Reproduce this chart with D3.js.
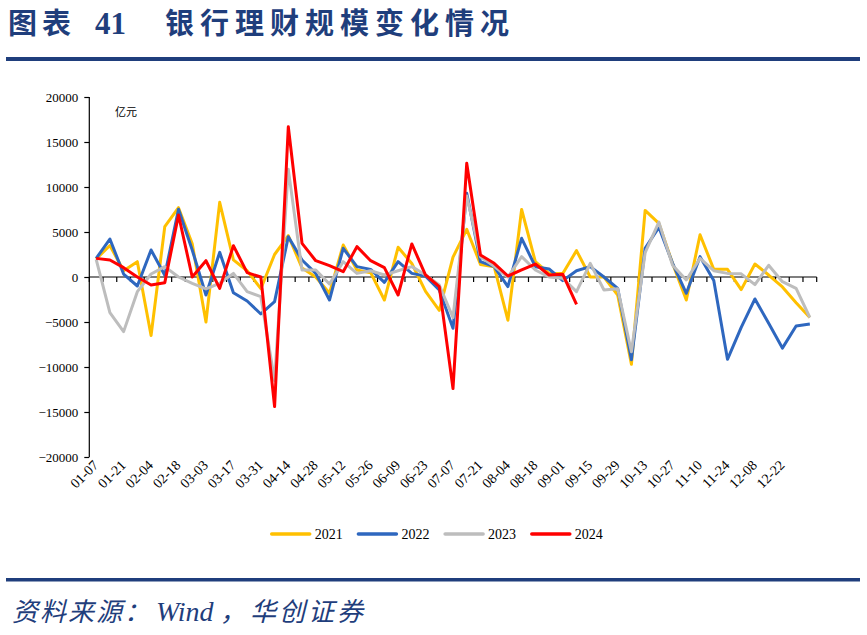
<!DOCTYPE html>
<html><head><meta charset="utf-8">
<script src="https://cdn.jsdelivr.net/npm/d3@7/dist/d3.min.js"></script>
<style>body{margin:0;background:#fff}svg{display:block}</style>
</head><body>
<script>
// ---- data ----
const categories = ["01-07","01-14","01-21","01-28","02-04","02-11","02-18","02-25","03-03","03-10","03-17","03-24","03-31","04-07","04-14","04-21","04-28","05-05","05-12","05-19","05-26","06-02","06-09","06-16","06-23","06-30","07-07","07-14","07-21","07-28","08-04","08-11","08-18","08-25","09-01","09-08","09-15","09-22","09-29","10-06","10-13","10-20","10-27","11-03","11-10","11-17","11-24","12-01","12-08","12-15","12-22","12-29","12-31"];
const tickLabels = ["01-07","01-21","02-04","02-18","03-03","03-17","03-31","04-14","04-28","05-12","05-26","06-09","06-23","07-07","07-21","08-04","08-18","09-01","09-15","09-29","10-13","10-27","11-10","11-24","12-08","12-22"];
const yTicks = [-20000,-15000,-10000,-5000,0,5000,10000,15000,20000];
const seriesNames = ["2021","2022","2023","2024"];
const v2021 = [2000,3500,700,1700,-6500,5600,7700,3700,-5000,8300,1900,700,-1300,2500,4600,1000,0,-1800,3550,780,480,-2560,3300,1500,-1600,-3700,2200,5300,1400,1150,-4800,7500,1700,400,400,2930,0,0,-2000,-9700,7400,5960,1500,-2560,4700,850,850,-1400,1440,220,-1100,-2850,-4500];
const v2022 = [2070,4220,330,-1000,3000,200,7520,3000,-2000,2740,-1740,-2670,-4110,-2740,4480,1890,400,-2560,3190,1150,850,-590,1700,400,100,-1440,-5700,9300,1700,1150,-1070,4300,1150,890,-400,700,1150,0,-1260,-9200,3190,5520,1520,-1810,2260,-400,-9150,-5600,-2440,-5150,-7900,-5440,-5220];
const v2023 = [1960,-3960,-6070,-1630,330,1150,0,-700,-1330,-700,400,-1630,-2190,-11500,11960,780,780,-780,1700,400,700,220,700,1150,220,-890,-4500,9000,2260,1200,0,2260,780,0,-150,-1630,1520,-1440,-1300,-8300,2700,6100,1300,-330,2070,700,400,350,-850,1300,-520,-1260,-4500];
const v2024 = [2070,1890,1040,0,-890,-630,6890,0,1810,-1260,3480,480,0,-14400,16700,3740,1810,1260,590,3370,1810,1040,-2000,3670,220,-1070,-12400,12630,2440,1520,110,780,1440,220,300,-3040];
const colors = ["#FFC000","#2E67BF","#BDBDBD","#FF0000"];
const allSeries = [v2021,v2022,v2023,v2024];

const W = 867, H = 635;
const svg = d3.select("body").append("svg").attr("width",W).attr("height",H);
svg.append("rect").attr("width",W).attr("height",H).attr("fill","#fff");
const navy = "#1F3E7C";

// title (separate text elements)
const tt = svg.append("g").attr("fill",navy).attr("font-weight","bold");
tt.append("text").attr("x",8).attr("y",34).attr("font-family","'Noto Sans CJK SC'").attr("font-size",29).attr("letter-spacing",5).text("图表");
tt.append("text").attr("x",95).attr("y",34).attr("font-family","'Liberation Serif'").attr("font-size",31).text("41");
tt.append("text").attr("x",165).attr("y",34).attr("font-family","'Noto Sans CJK SC'").attr("font-size",29).attr("letter-spacing",6).text("银行理财规模变化情况");
svg.append("rect").attr("x",6).attr("y",57).attr("width",854).attr("height",4).attr("fill",navy);
svg.append("rect").attr("x",6).attr("y",578).attr("width",854).attr("height",3.5).attr("fill",navy);

// source
const sg = svg.append("g").attr("fill",navy).attr("font-style","italic").attr("font-size",26);
sg.append("text").attr("x",12).attr("y",621).attr("font-family","'Noto Sans CJK SC'").attr("letter-spacing",2).text("资料来源：");
sg.append("text").attr("x",156).attr("y",621).attr("font-family","'Liberation Serif'").attr("font-size",28).text("Wind");
sg.append("text").attr("x",220).attr("y",621).attr("font-family","'Noto Sans CJK SC'").text("，");
sg.append("text").attr("x",250).attr("y",621).attr("font-family","'Noto Sans CJK SC'").attr("letter-spacing",3).text("华创证券");

// scales
const x = d3.scaleBand().domain(categories).range([89.3,816.7]).padding(0);
const cx = c => x(c) + x.bandwidth()/2;
const y = d3.scaleLinear().domain([-20000,20000]).range([457,97]);

// y axis
const ya = svg.append("g").attr("transform","translate(89.3,0)")
  .call(d3.axisLeft(y).tickValues(yTicks).tickSize(5).tickPadding(6).tickFormat(d3.format("d")));
ya.select(".domain").attr("stroke","#000").attr("stroke-width",1.2).attr("d","M0,"+y(20000)+"V"+y(-20000));
ya.selectAll(".tick line").attr("stroke","#000").attr("stroke-width",1.2);
ya.selectAll("text").attr("font-family","'Liberation Serif'").attr("font-size",13).attr("fill","#000");
svg.append("text").attr("x",115).attr("y",116).attr("font-family","'Noto Sans CJK SC'").attr("font-size",11).attr("fill","#000").text("亿元");

// zero axis with ticks at category boundaries
const xa = svg.append("g").attr("transform","translate(0,"+y(0)+")");
xa.append("line").attr("x1",x.range()[0]).attr("x2",x.range()[1]).attr("stroke","#000").attr("stroke-width",1.2);
const bounds = categories.map(c=>x(c)).concat([x.range()[1]]);
xa.selectAll(".tk").data(bounds).enter().append("line").attr("class","tk")
  .attr("x1",d=>d).attr("x2",d=>d).attr("y1",0).attr("y2",5).attr("stroke","#000").attr("stroke-width",1.2);

// x labels
svg.append("g").selectAll("text").data(tickLabels).enter().append("text")
  .attr("transform",d=>"translate("+(cx(d)+3)+",466) rotate(-45)")
  .attr("text-anchor","end").attr("font-family","'Liberation Serif'").attr("font-size",14).attr("fill","#000").text(d=>d);

// lines
const line = d3.line().x((d,i)=>cx(categories[i])).y(d=>y(d));
allSeries.forEach((s,k)=>{
  svg.append("path").datum(s).attr("d",line).attr("fill","none").attr("stroke",colors[k])
    .attr("stroke-width",3).attr("stroke-linejoin","round");
});

// legend
const lg = svg.append("g");
seriesNames.forEach((n,k)=>{
  const x0 = 271.7 + k*86.7;
  lg.append("line").attr("x1",x0).attr("x2",x0+38).attr("y1",534).attr("y2",534).attr("stroke",colors[k]).attr("stroke-width",3.5).attr("stroke-linecap","round");
  lg.append("text").attr("x",x0+43).attr("y",539).attr("font-family","'Liberation Serif'").attr("font-size",14).attr("fill","#000").text(n);
});
</script>
</body></html>
